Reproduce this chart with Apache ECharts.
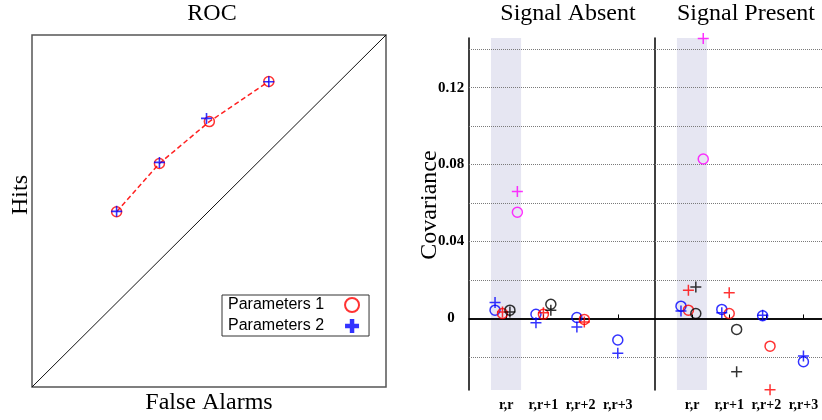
<!DOCTYPE html>
<html>
<head>
<meta charset="utf-8">
<script src="https://cdn.jsdelivr.net/npm/echarts@6/dist/echarts.min.js"></script>
<style>
  html, body { margin: 0; padding: 0; background: #ffffff; }
  #chart { width: 822px; height: 420px; }
</style>
</head>
<body>
<div id="chart"></div>
<script>
// ---- ROC panel data (false-alarm rate, hit rate) ----
const rocParams1 = [[0.239, 0.498], [0.360, 0.635], [0.501, 0.754], [0.669, 0.868]];
const rocParams2 = [[0.239, 0.499], [0.360, 0.638], [0.493, 0.763], [0.669, 0.867]];
const chanceLine = [[0, 0], [1, 1]];

// ---- Covariance panels ----
const lagCategories = ['r,r', 'r,r+1', 'r,r+2', 'r,r+3'];
const markerColors = ['#0000ff', '#ff0000', '#000000', '#ff00ff'];

// rows: blue, red, black, magenta; columns follow lagCategories
const absentCircles = [
  [0.0043, 0.0022, 0.0005, -0.0112],
  [0.0026, 0.0022, -0.0005, null],
  [0.0043, 0.0074, null, null],
  [0.0552, null, null, null]
];
const absentCrosses = [
  [0.0083, -0.0023, -0.0044, -0.0181],
  [0.0034, 0.0029, -0.0018, null],
  [0.0034, 0.0043, null, null],
  [0.0660, null, null, null]
];
const presentCircles = [
  [0.0064, 0.0047, 0.0014, -0.0225],
  [0.0043, 0.0026, -0.0144, null],
  [0.0026, -0.0057, null, null],
  [0.0829, null, null, null]
];
const presentCrosses = [
  [0.0039, 0.0029, 0.0017, -0.0195],
  [0.0147, 0.0133, -0.0371, null],
  [0.0164, -0.0277, null, null],
  [0.1456, null, null, null]
];

const covRange = [-0.0372, 0.1458];
const covLabelTicks = [0, 0.04, 0.08, 0.12];
const covGridTicks = [-0.02, 0.02, 0.04, 0.06, 0.08, 0.10, 0.12, 0.14];
const varianceBand = [0.59, 1.4];

const SERIF = 'Liberation Serif';
const SANS = 'Liberation Sans';
const plusThin = 'path://M5,0V10M0,5H10';
const plusBold = 'path://M3.4,0H6.6V3.4H10V6.6H6.6V10H3.4V6.6H0V3.4H3.4Z';

// Spread the markers of one lag side by side, centred on its tick.
function spread(rows, colorIdx, values) {
  const out = [];
  values.forEach((v, i) => {
    if (v == null) return;
    const present = [];
    rows.forEach((r, c) => { if (r[i] != null) present.push(c); });
    const rank = present.indexOf(colorIdx);
    const off = (rank - (present.length - 1) / 2) * 0.2;
    out.push([i + 1 + off, v]);
  });
  return out;
}

const chart = echarts.init(document.getElementById('chart'), null, { renderer: 'canvas' });

const panelAxes = [
  { grid: 1, xMax: 5, showLabels: true },
  { grid: 2, xMax: 4.5, showLabels: false }
];

const xAxes = [{
  gridIndex: 0, type: 'value', min: 0, max: 1,
  name: 'False Alarms', nameLocation: 'middle', nameGap: 4,
  nameTextStyle: { fontFamily: SERIF, fontSize: 24, color: '#000' },
  axisLine: { show: false }, axisTick: { show: false },
  axisLabel: { show: false }, splitLine: { show: false }
}];
const yAxes = [{
  gridIndex: 0, type: 'value', min: 0, max: 1,
  name: 'Hits', nameLocation: 'middle', nameGap: -1, nameRotate: 90,
  nameTextStyle: { fontFamily: SERIF, fontSize: 24, color: '#000', padding: [0, 0, 0, 32] },
  axisLine: { show: false }, axisTick: { show: false },
  axisLabel: { show: false }, splitLine: { show: false }
}];

panelAxes.forEach(p => {
  xAxes.push({
    gridIndex: p.grid, type: 'value', min: 0, max: p.xMax, z: 4,
    axisLine: { lineStyle: { color: '#000', width: 1.5 } },
    axisTick: { customValues: [1, 2, 3, 4], inside: true, length: 4, lineStyle: { color: '#000', width: 1 } },
    axisLabel: {
      customValues: [1, 2, 3, 4],
      formatter: v => lagCategories[Math.round(v) - 1],
      fontFamily: SERIF, fontWeight: 'bold', fontSize: 14, color: '#000', margin: 8
    },
    splitLine: { show: false }
  });
  yAxes.push({
    gridIndex: p.grid, type: 'value', min: covRange[0], max: covRange[1], z: 4,
    name: p.showLabels ? 'Covariance' : '',
    nameLocation: 'middle', nameGap: 27, nameRotate: 90, nameMoveOverlap: false,
    nameTextStyle: { fontFamily: SERIF, fontSize: 24, color: '#000', padding: [0, 0, 0, 18] },
    axisLine: { lineStyle: { color: '#000', width: 1.5 } },
    axisTick: { show: false },
    axisLabel: {
      show: p.showLabels,
      customValues: covLabelTicks,
      formatter: v => (Math.abs(v) < 1e-9 ? '0' : v.toFixed(2)),
      fontFamily: SERIF, fontWeight: 'bold', fontSize: 15, color: '#000',
      align: 'center', margin: 18
    },
    splitLine: { show: false }
  });
});

const series = [
  {
    type: 'line', name: 'chance', xAxisIndex: 0, yAxisIndex: 0,
    data: chanceLine, symbol: 'none', silent: true,
    lineStyle: { color: '#111', width: 1 }, z: 2
  },
  {
    type: 'line', name: 'curve', xAxisIndex: 0, yAxisIndex: 0,
    data: rocParams1, symbol: 'none', silent: true,
    lineStyle: { color: '#ff2020', width: 1.5, type: [5, 3] }, z: 3
  },
  {
    type: 'scatter', name: 'Parameters 1', xAxisIndex: 0, yAxisIndex: 0,
    data: rocParams1, symbol: 'circle', symbolSize: 10, clip: false, z: 4,
    itemStyle: { color: 'rgba(0,0,0,0)', borderColor: '#ff0000', borderWidth: 1.5 }
  },
  {
    type: 'scatter', name: 'Parameters 2', xAxisIndex: 0, yAxisIndex: 0,
    data: rocParams2, symbol: plusThin, symbolSize: 11, clip: false, z: 5,
    itemStyle: { color: 'none', borderColor: '#0000ff', borderWidth: 1.6 }
  }
];

// Background band, dotted grid lines and the zero line for each covariance panel
[1, 2].forEach(g => {
  series.push({
    type: 'scatter', name: 'frame' + g, xAxisIndex: g, yAxisIndex: g,
    data: [], silent: true, z: 1,
    markArea: {
      silent: true,
      itemStyle: { color: '#e6e6f2' },
      data: [[{ xAxis: varianceBand[0], yAxis: covRange[1] }, { xAxis: varianceBand[1], yAxis: covRange[0] }]]
    },
    markLine: {
      silent: true, symbol: 'none', label: { show: false },
      animation: false,
      data: covGridTicks.map(v => ({ yAxis: v, lineStyle: { color: '#7a7a7a', width: 1, type: [1, 1] } }))
        .concat([{ yAxis: 0, lineStyle: { color: '#000', width: 1.5, type: 'solid' } }])
    }
  });
});

const panels = [
  { axis: 1, circles: absentCircles, crosses: absentCrosses },
  { axis: 2, circles: presentCircles, crosses: presentCrosses }
];
panels.forEach(p => {
  markerColors.forEach((col, c) => {
    series.push({
      type: 'scatter', name: 'o' + p.axis + c, xAxisIndex: p.axis, yAxisIndex: p.axis,
      data: spread(p.circles, c, p.circles[c]), symbol: 'circle', symbolSize: 10,
      clip: false, z: 6,
      itemStyle: { color: 'rgba(0,0,0,0)', borderColor: col, borderWidth: 1.5 }
    });
    series.push({
      type: 'scatter', name: 'x' + p.axis + c, xAxisIndex: p.axis, yAxisIndex: p.axis,
      data: spread(p.circles, c, p.crosses[c]), symbol: plusThin, symbolSize: 11,
      clip: false, z: 7,
      itemStyle: { color: 'none', borderColor: col, borderWidth: 1.5 }
    });
  });
});

const titleStyle = { fontFamily: SERIF, fontSize: 24, fontWeight: 'normal', color: '#000' };

chart.setOption({
  animation: false,
  backgroundColor: '#ffffff',
  title: [
    { text: 'ROC', left: 212, top: 2, textAlign: 'center', padding: 0, textStyle: titleStyle },
    { text: 'Signal Absent', left: 568, top: 2, textAlign: 'center', padding: 0, textStyle: titleStyle },
    { text: 'Signal Present', left: 746, top: 2, textAlign: 'center', padding: 0, textStyle: titleStyle }
  ],
  legend: {
    orient: 'vertical', left: 222, top: 295, align: 'right',
    backgroundColor: '#ffffff', borderColor: '#333', borderWidth: 1,
    padding: [2, 9, 2, 6], itemGap: 5, itemWidth: 14, itemHeight: 14,
    textStyle: { fontFamily: SANS, fontSize: 16, color: '#000', lineHeight: 16, padding: [0, 16, 0, 0] },
    selectedMode: false,
    data: [
      { name: 'Parameters 1', icon: 'circle', itemStyle: { color: 'rgba(0,0,0,0)', borderColor: '#ff0000', borderWidth: 2 } },
      { name: 'Parameters 2', icon: plusBold, itemStyle: { color: '#0000ff', borderWidth: 0 } }
    ]
  },
  grid: [
    { left: 32, top: 35, width: 354, height: 355, show: true, borderColor: '#555', borderWidth: 1.5, backgroundColor: 'transparent' },
    { left: 469, top: 38, width: 186, height: 352 },
    { left: 655, top: 38, width: 167, height: 352 }
  ],
  xAxis: xAxes,
  yAxis: yAxes,
  series: series
});
</script>
</body>
</html>
